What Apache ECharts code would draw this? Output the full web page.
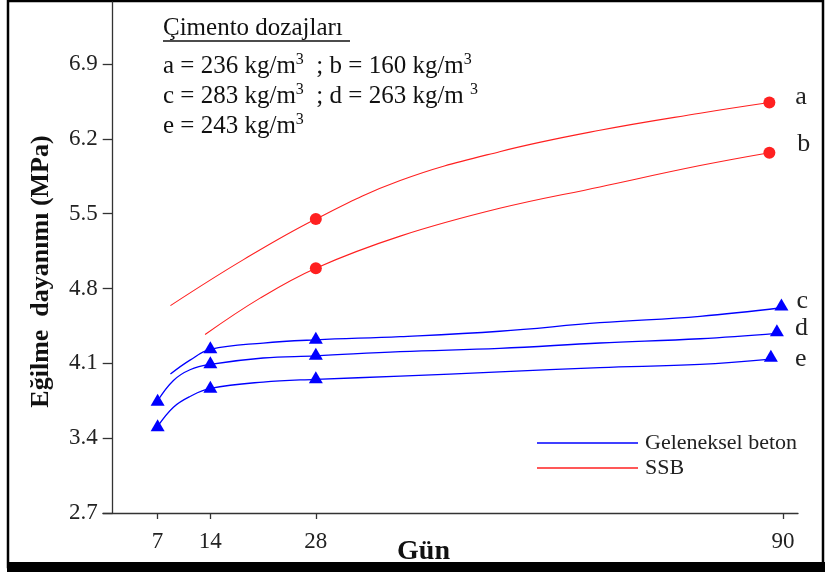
<!DOCTYPE html>
<html><head><meta charset="utf-8">
<script src="https://cdn.jsdelivr.net/npm/echarts@6/dist/echarts.min.js"></script>
<style>html,body{margin:0;padding:0;background:#fff}#c{width:831px;height:572px}</style>
</head><body><div id="c"></div>
<script>
// Axis ticks
const xTicks = [7, 14, 28, 90];
const yTicks = [2.7, 3.4, 4.1, 4.8, 5.5, 6.2, 6.9];

// Fitted curves: [day, MPa]
const curveA = [[8.7,4.64],[18.4,5.07],[28,5.45],[39.2,5.81],[52.4,6.08],[65.7,6.28],[79,6.44],[88.2,6.54]];
const curveB = [[13.3,4.37],[20.6,4.71],[28,4.99],[39.2,5.29],[52.4,5.55],[65.7,5.75],[79,5.95],[88.2,6.07]];
const curveC = [[8.7,4.0],[11.3,4.13],[14,4.23],[21,4.29],[28,4.32],[39.2,4.35],[52.4,4.40],[65.7,4.48],[79,4.54],[89.8,4.62]];
const curveD = [[7,3.75],[9.1,3.94],[11.3,4.04],[14,4.09],[21,4.15],[28,4.17],[39.2,4.21],[52.4,4.24],[65.7,4.29],[79,4.33],[89.2,4.38]];
const curveE = [[7,3.51],[9.1,3.69],[11.3,3.79],[14,3.865],[21,3.925],[28,3.95],[39.2,3.98],[52.4,4.02],[65.7,4.06],[79,4.09],[88.4,4.14]];

// Measured points: [day, MPa]
const markA = [[28,5.45],[88.2,6.54]];
const markB = [[28,4.99],[88.2,6.07]];
const markC = [[14,4.25],[28,4.34],[89.8,4.65]];
const markD = [[7,3.76],[14,4.11],[28,4.19],[89.2,4.41]];
const markE = [[7,3.52],[14,3.88],[28,3.97],[88.4,4.17]];

const endLetters = ['a','b','c','d','e'];
const legendNames = ['Geleneksel beton', 'SSB'];
const titleLines = ['Çimento dozajları'];

const FONT = 'Liberation Serif';
const BLUE = '#0000ff', RED = '#ff2020';

function curve(name, data, color) {
  return { type: 'line', name, data, smooth: 0.4, showSymbol: false, symbol: 'none',
    color, lineStyle: { color, width: name === 'SSB' ? 1.1 : 1.3 }, silent: true, z: 2 };
}
function marks(name, data, color, symbol, size, letter, dist, dy) {
  const d = data.map((p, i) => i === data.length - 1 ? { value: p, label: { show: true, formatter: letter,
      position: 'right', distance: dist, offset: [0, dy], fontFamily: FONT, fontSize: 26, color: '#222' } } : { value: p });
  return { type: 'scatter', name, data: d, symbol, symbolSize: size, itemStyle: { color, opacity: 1 }, z: 3, silent: true };
}

const RICH = { t: { font: '25px "Liberation Serif"', fill: '#111', lineHeight: 28 },
               s: { font: '16px "Liberation Serif"', fill: '#111', verticalAlign: 'top', lineHeight: 28 } };

const chart = echarts.init(document.getElementById('c'), null, { renderer: 'canvas' });
chart.setOption({
  animation: false,
  backgroundColor: '#fff',
  grid: { left: 103, right: 33, top: 2, bottom: 59, containLabel: false, outerBoundsMode: 'none' },
  legend: {
    data: legendNames, orient: 'vertical', left: 537, top: 432, icon: 'rect', padding: 0,
    itemWidth: 101, itemHeight: 1.5, itemGap: 3, selectedMode: false,
    textStyle: { fontFamily: FONT, fontSize: 22, color: '#222', lineHeight: 22, padding: [0,0,0,2] }
  },
  xAxis: {
    type: 'value', min: -0.25, max: 92.0,
    name: 'Gün', nameLocation: 'middle', nameGap: 25, nameMoveOverlap: false,
    nameTextStyle: { fontFamily: FONT, fontWeight: 'bold', fontSize: 28, color: '#111', padding: [0,54,0,0] },
    axisLine: { lineStyle: { color: '#333', width: 1.3 } },
    axisTick: { show: true, length: 6, lineStyle: { color: '#333', width: 1.3 }, customValues: xTicks },
    axisLabel: { fontFamily: FONT, fontSize: 23, color: '#222', margin: 17, customValues: xTicks },
    splitLine: { show: false }
  },
  yAxis: {
    type: 'value', min: 2.7, max: 7.48, offset: -9.7,
    name: 'Eğilme  dayanımı (MPa)', nameLocation: 'middle', nameRotate: 90, nameGap: 58, nameMoveOverlap: false,
    nameTextStyle: { fontFamily: FONT, fontWeight: 'bold', fontSize: 26, color: '#111', padding: [0,28,0,0] },
    axisLine: { show: true, lineStyle: { color: '#333', width: 1.3 } },
    axisTick: { show: true, length: 10, lineStyle: { color: '#333', width: 1.3 }, customValues: yTicks },
    axisLabel: { fontFamily: FONT, fontSize: 23, color: '#222', margin: 15, customValues: yTicks,
      formatter: v => v.toFixed(1) },
    splitLine: { show: false }
  },
  series: [
    curve('SSB', curveA, RED), curve('SSB', curveB, RED),
    curve('Geleneksel beton', curveC, BLUE), curve('Geleneksel beton', curveD, BLUE), curve('Geleneksel beton', curveE, BLUE),
    marks('a-pts', markA, RED, 'circle', 12, endLetters[0], 20, -5),
    marks('b-pts', markB, RED, 'circle', 12, endLetters[1], 22, -9),
    marks('c-pts', markC, BLUE, 'triangle', [14, 12], endLetters[2], 8, -3),
    marks('d-pts', markD, BLUE, 'triangle', [14, 12], endLetters[3], 11, -2),
    marks('e-pts', markE, BLUE, 'triangle', [14, 12], endLetters[4], 17, 3)
  ],
  graphic: [
    { type: 'rect', shape: { x: 8, y: 1, width: 815, height: 566 }, style: { fill: 'none', stroke: '#000', lineWidth: 2.5 }, silent: true },
    { type: 'rect', shape: { x: 7, y: 562, width: 818, height: 10 }, style: { fill: '#000' }, silent: true, z: 100 },
    { type: 'text', left: 163, top: 16, style: { text: titleLines[0], font: '25px "Liberation Serif"', fill: '#111' } },
    { type: 'line', shape: { x1: 163, y1: 41, x2: 350, y2: 41 }, style: { stroke: '#111', lineWidth: 1.3 } },
    { type: 'text', left: 163, top: 52, style: { text: '{t|a = 236 kg/m}{s|3}{t|  ; b = 160 kg/m}{s|3}', rich: RICH } },
    { type: 'text', left: 163, top: 82, style: { text: '{t|c = 283 kg/m}{s|3}{t|  ; d = 263 kg/m }{s|3}', rich: RICH } },
    { type: 'text', left: 163, top: 112, style: { text: '{t|e = 243 kg/m}{s|3}', rich: RICH } }
  ]
});
</script></body></html>
